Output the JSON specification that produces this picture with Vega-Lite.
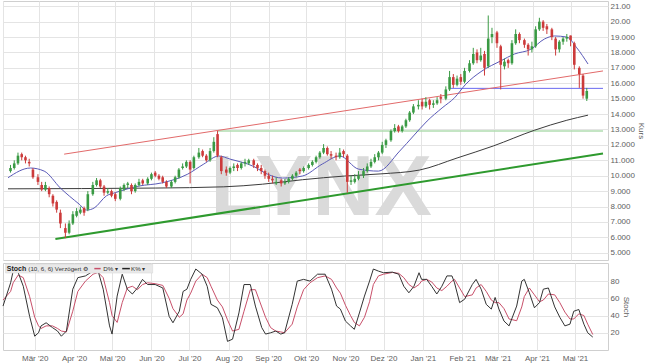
{
  "$schema": "https://vega.github.io/schema/vega-lite/v6.json",
  "padding": 0,
  "spacing": 3,
  "bounds": "flush",
  "background": "white",
  "config": {
    "view": {"stroke": "#cfcfcf"},
    "axis": {
      "gridColor": "#e4e4e4",
      "labelFont": "Liberation Sans",
      "labelFontSize": 8,
      "labelColor": "#606060",
      "labelOverlap": false,
      "titleFont": "Liberation Sans",
      "titleFontSize": 8,
      "titleColor": "#606060",
      "titleFontWeight": "normal",
      "ticks": false,
      "domain": false
    }
  },
  "datasets": {
    "candles": [
      {"d":"2020-02-07","o":10.3,"h":10.7,"l":10.2,"c":10.5},
      {"d":"2020-02-10","o":10.5,"h":11.0,"l":10.4,"c":10.8},
      {"d":"2020-02-13","o":10.8,"h":11.5,"l":10.7,"c":11.3},
      {"d":"2020-02-16","o":11.4,"h":11.5,"l":11.0,"c":11.2},
      {"d":"2020-02-19","o":11.2,"h":11.3,"l":10.8,"c":11.0},
      {"d":"2020-02-22","o":10.9,"h":11.1,"l":10.6,"c":10.8},
      {"d":"2020-02-25","o":10.4,"h":10.5,"l":9.8,"c":9.9},
      {"d":"2020-02-29","o":9.9,"h":10.1,"l":9.4,"c":9.6},
      {"d":"2020-03-03","o":9.4,"h":9.6,"l":9.0,"c":9.1},
      {"d":"2020-03-06","o":9.1,"h":9.6,"l":9.0,"c":9.4},
      {"d":"2020-03-09","o":9.2,"h":9.3,"l":8.6,"c":8.8},
      {"d":"2020-03-12","o":8.7,"h":8.8,"l":8.0,"c":8.2},
      {"d":"2020-03-15","o":8.3,"h":8.4,"l":7.6,"c":7.8},
      {"d":"2020-03-18","o":7.6,"h":7.8,"l":6.6,"c":6.9},
      {"d":"2020-03-22","o":6.6,"h":6.9,"l":5.95,"c":6.3},
      {"d":"2020-03-25","o":6.3,"h":7.1,"l":6.2,"c":6.9},
      {"d":"2020-03-28","o":6.9,"h":7.7,"l":6.8,"c":7.5},
      {"d":"2020-03-31","o":7.4,"h":7.9,"l":7.3,"c":7.7},
      {"d":"2020-04-03","o":7.6,"h":8.0,"l":7.5,"c":7.8},
      {"d":"2020-04-06","o":7.9,"h":8.0,"l":7.4,"c":7.6},
      {"d":"2020-04-09","o":7.8,"h":9.0,"l":7.7,"c":8.8},
      {"d":"2020-04-13","o":8.8,"h":9.6,"l":8.7,"c":9.4},
      {"d":"2020-04-16","o":9.4,"h":9.85,"l":9.3,"c":9.7},
      {"d":"2020-04-19","o":9.7,"h":9.8,"l":9.2,"c":9.3},
      {"d":"2020-04-22","o":9.3,"h":9.4,"l":8.7,"c":8.9},
      {"d":"2020-04-25","o":8.9,"h":9.2,"l":8.8,"c":9.0},
      {"d":"2020-04-28","o":9.0,"h":9.1,"l":8.6,"c":8.7},
      {"d":"2020-05-01","o":8.8,"h":8.9,"l":8.35,"c":8.5},
      {"d":"2020-05-05","o":8.5,"h":9.3,"l":8.4,"c":9.2},
      {"d":"2020-05-08","o":9.1,"h":9.5,"l":9.0,"c":9.4},
      {"d":"2020-05-11","o":9.4,"h":9.6,"l":9.2,"c":9.5},
      {"d":"2020-05-14","o":9.4,"h":9.5,"l":8.8,"c":9.0},
      {"d":"2020-05-17","o":9.0,"h":9.5,"l":8.9,"c":9.4},
      {"d":"2020-05-20","o":9.4,"h":9.8,"l":9.3,"c":9.6},
      {"d":"2020-05-23","o":9.7,"h":9.8,"l":9.4,"c":9.5},
      {"d":"2020-05-27","o":9.5,"h":9.9,"l":9.4,"c":9.8},
      {"d":"2020-05-30","o":9.8,"h":10.2,"l":9.7,"c":10.1},
      {"d":"2020-06-02","o":10.2,"h":10.3,"l":9.9,"c":10.0},
      {"d":"2020-06-05","o":10.0,"h":10.1,"l":9.7,"c":9.8},
      {"d":"2020-06-08","o":9.9,"h":10.0,"l":9.5,"c":9.6},
      {"d":"2020-06-11","o":9.6,"h":9.7,"l":9.2,"c":9.3},
      {"d":"2020-06-15","o":9.3,"h":9.7,"l":9.2,"c":9.6},
      {"d":"2020-06-18","o":9.6,"h":10.0,"l":9.5,"c":9.9},
      {"d":"2020-06-21","o":9.9,"h":10.5,"l":9.8,"c":10.4},
      {"d":"2020-06-24","o":10.5,"h":10.8,"l":10.4,"c":10.6},
      {"d":"2020-06-27","o":10.6,"h":11.0,"l":10.5,"c":10.9},
      {"d":"2020-06-30","o":10.9,"h":11.0,"l":9.5,"c":10.4},
      {"d":"2020-07-03","o":10.5,"h":11.3,"l":10.4,"c":11.2},
      {"d":"2020-07-07","o":11.2,"h":11.8,"l":11.1,"c":11.5},
      {"d":"2020-07-10","o":11.6,"h":11.7,"l":11.2,"c":11.3},
      {"d":"2020-07-13","o":11.3,"h":11.4,"l":10.9,"c":11.0},
      {"d":"2020-07-16","o":11.0,"h":11.8,"l":10.9,"c":11.6},
      {"d":"2020-07-19","o":11.6,"h":12.5,"l":11.5,"c":12.2},
      {"d":"2020-07-22","o":12.7,"h":12.9,"l":11.2,"c":11.3},
      {"d":"2020-07-25","o":11.2,"h":11.3,"l":10.1,"c":10.3},
      {"d":"2020-07-29","o":10.4,"h":10.6,"l":10.0,"c":10.2},
      {"d":"2020-08-01","o":10.2,"h":10.6,"l":10.1,"c":10.5},
      {"d":"2020-08-04","o":10.5,"h":10.8,"l":10.3,"c":10.6},
      {"d":"2020-08-07","o":10.7,"h":10.8,"l":10.3,"c":10.5},
      {"d":"2020-08-10","o":10.5,"h":10.9,"l":10.4,"c":10.8},
      {"d":"2020-08-13","o":10.8,"h":11.1,"l":10.6,"c":10.9},
      {"d":"2020-08-16","o":10.8,"h":11.1,"l":10.7,"c":11.0},
      {"d":"2020-08-20","o":11.0,"h":11.1,"l":10.5,"c":10.7},
      {"d":"2020-08-23","o":10.7,"h":10.8,"l":10.3,"c":10.5},
      {"d":"2020-08-26","o":10.5,"h":10.7,"l":10.1,"c":10.3},
      {"d":"2020-08-29","o":10.3,"h":10.4,"l":9.8,"c":10.0},
      {"d":"2020-09-01","o":10.0,"h":10.2,"l":9.6,"c":9.8},
      {"d":"2020-09-04","o":9.8,"h":10.0,"l":9.5,"c":9.7},
      {"d":"2020-09-07","o":9.5,"h":9.9,"l":9.4,"c":9.6},
      {"d":"2020-09-11","o":9.7,"h":9.8,"l":9.3,"c":9.5},
      {"d":"2020-09-14","o":9.5,"h":9.8,"l":9.4,"c":9.6},
      {"d":"2020-09-17","o":9.6,"h":9.9,"l":9.5,"c":9.8},
      {"d":"2020-09-20","o":9.8,"h":10.1,"l":9.7,"c":10.0},
      {"d":"2020-09-23","o":10.0,"h":10.3,"l":9.9,"c":10.2},
      {"d":"2020-09-26","o":10.4,"h":10.5,"l":10.1,"c":10.3},
      {"d":"2020-09-29","o":10.3,"h":10.6,"l":10.2,"c":10.5},
      {"d":"2020-10-03","o":10.5,"h":10.8,"l":10.4,"c":10.7},
      {"d":"2020-10-06","o":10.7,"h":11.0,"l":10.6,"c":10.9},
      {"d":"2020-10-09","o":10.9,"h":11.3,"l":10.8,"c":11.2},
      {"d":"2020-10-12","o":11.2,"h":11.6,"l":11.1,"c":11.5},
      {"d":"2020-10-15","o":11.5,"h":12.05,"l":11.4,"c":11.8},
      {"d":"2020-10-18","o":11.8,"h":11.9,"l":11.3,"c":11.4},
      {"d":"2020-10-21","o":11.4,"h":11.6,"l":11.1,"c":11.3},
      {"d":"2020-10-25","o":11.3,"h":11.5,"l":11.0,"c":11.2},
      {"d":"2020-10-28","o":11.2,"h":11.8,"l":11.1,"c":11.5},
      {"d":"2020-10-31","o":11.6,"h":11.7,"l":11.2,"c":11.4},
      {"d":"2020-11-03","o":11.3,"h":11.4,"l":8.9,"c":9.6},
      {"d":"2020-11-06","o":9.6,"h":10.0,"l":9.4,"c":9.7},
      {"d":"2020-11-09","o":9.6,"h":10.1,"l":9.5,"c":9.8},
      {"d":"2020-11-12","o":9.8,"h":10.3,"l":9.7,"c":10.0},
      {"d":"2020-11-16","o":10.0,"h":10.5,"l":9.85,"c":10.3},
      {"d":"2020-11-19","o":10.3,"h":10.8,"l":10.2,"c":10.6},
      {"d":"2020-11-22","o":10.6,"h":11.1,"l":10.5,"c":10.9},
      {"d":"2020-11-25","o":10.9,"h":11.4,"l":10.8,"c":11.2},
      {"d":"2020-11-28","o":11.2,"h":11.6,"l":11.0,"c":11.5},
      {"d":"2020-12-01","o":11.5,"h":12.2,"l":11.4,"c":12.0},
      {"d":"2020-12-04","o":12.0,"h":12.4,"l":11.8,"c":12.3},
      {"d":"2020-12-08","o":12.3,"h":13.0,"l":12.2,"c":12.9},
      {"d":"2020-12-11","o":12.9,"h":13.35,"l":12.8,"c":13.1},
      {"d":"2020-12-14","o":13.2,"h":13.3,"l":12.8,"c":12.9},
      {"d":"2020-12-17","o":12.9,"h":13.3,"l":12.8,"c":13.2},
      {"d":"2020-12-20","o":13.2,"h":13.7,"l":13.1,"c":13.6},
      {"d":"2020-12-23","o":13.6,"h":14.2,"l":13.5,"c":14.1},
      {"d":"2020-12-26","o":14.1,"h":14.65,"l":14.0,"c":14.5},
      {"d":"2020-12-30","o":14.5,"h":14.9,"l":14.3,"c":14.6},
      {"d":"2021-01-02","o":14.8,"h":15.0,"l":14.3,"c":14.5},
      {"d":"2021-01-05","o":14.5,"h":15.1,"l":14.4,"c":14.8},
      {"d":"2021-01-08","o":14.9,"h":15.0,"l":14.3,"c":14.6},
      {"d":"2021-01-11","o":14.6,"h":14.9,"l":14.4,"c":14.7},
      {"d":"2021-01-14","o":14.7,"h":15.1,"l":14.6,"c":14.9},
      {"d":"2021-01-17","o":15.1,"h":15.3,"l":14.7,"c":15.0},
      {"d":"2021-01-21","o":15.0,"h":15.8,"l":14.9,"c":15.6},
      {"d":"2021-01-24","o":15.6,"h":16.8,"l":15.5,"c":16.4},
      {"d":"2021-01-27","o":16.4,"h":16.6,"l":15.7,"c":15.9},
      {"d":"2021-01-30","o":15.9,"h":16.5,"l":15.8,"c":16.3},
      {"d":"2021-02-02","o":16.4,"h":16.6,"l":15.9,"c":16.1},
      {"d":"2021-02-05","o":16.1,"h":17.0,"l":16.0,"c":16.8},
      {"d":"2021-02-09","o":16.8,"h":17.5,"l":16.7,"c":17.3},
      {"d":"2021-02-12","o":17.3,"h":18.3,"l":17.2,"c":17.9},
      {"d":"2021-02-15","o":18.0,"h":18.2,"l":17.3,"c":17.5},
      {"d":"2021-02-18","o":17.5,"h":18.3,"l":17.4,"c":17.8},
      {"d":"2021-02-21","o":17.9,"h":18.1,"l":16.5,"c":17.0},
      {"d":"2021-02-24","o":17.1,"h":20.4,"l":17.0,"c":18.9},
      {"d":"2021-02-27","o":19.0,"h":19.6,"l":18.6,"c":19.2},
      {"d":"2021-03-03","o":19.3,"h":19.4,"l":18.3,"c":18.6},
      {"d":"2021-03-06","o":18.4,"h":18.5,"l":15.6,"c":17.2},
      {"d":"2021-03-09","o":17.1,"h":17.6,"l":16.9,"c":17.4},
      {"d":"2021-03-12","o":17.5,"h":17.6,"l":17.0,"c":17.3},
      {"d":"2021-03-15","o":17.3,"h":18.8,"l":17.2,"c":18.6},
      {"d":"2021-03-18","o":18.6,"h":19.5,"l":18.5,"c":19.2},
      {"d":"2021-03-21","o":19.2,"h":19.3,"l":18.6,"c":18.8},
      {"d":"2021-03-25","o":18.8,"h":18.9,"l":18.3,"c":18.5},
      {"d":"2021-03-28","o":18.5,"h":18.6,"l":17.8,"c":18.2},
      {"d":"2021-03-31","o":18.2,"h":18.7,"l":18.0,"c":18.4},
      {"d":"2021-04-03","o":18.4,"h":19.7,"l":18.3,"c":19.5},
      {"d":"2021-04-06","o":19.5,"h":20.25,"l":19.4,"c":20.0},
      {"d":"2021-04-09","o":20.0,"h":20.1,"l":19.4,"c":19.6},
      {"d":"2021-04-12","o":19.7,"h":19.85,"l":19.2,"c":19.5},
      {"d":"2021-04-16","o":19.5,"h":19.6,"l":18.8,"c":19.0},
      {"d":"2021-04-19","o":18.9,"h":19.0,"l":17.8,"c":18.2},
      {"d":"2021-04-22","o":18.2,"h":18.8,"l":18.0,"c":18.7},
      {"d":"2021-04-25","o":18.7,"h":19.0,"l":18.5,"c":18.9},
      {"d":"2021-04-28","o":18.9,"h":19.2,"l":18.7,"c":19.0},
      {"d":"2021-05-01","o":19.1,"h":19.1,"l":18.4,"c":18.8},
      {"d":"2021-05-04","o":18.6,"h":18.7,"l":16.9,"c":17.2},
      {"d":"2021-05-08","o":17.0,"h":17.1,"l":15.7,"c":16.6},
      {"d":"2021-05-11","o":16.5,"h":16.6,"l":15.0,"c":15.2},
      {"d":"2021-05-14","o":15.0,"h":15.7,"l":14.85,"c":15.5}
    ],
    "ma20": [
      {"d":"2020-02-05","v":9.87},{"d":"2020-02-23","v":10.5},{"d":"2020-03-05","v":10.3},
      {"d":"2020-03-18","v":9.2},{"d":"2020-04-02","v":8.16},{"d":"2020-04-08","v":7.77},
      {"d":"2020-04-14","v":7.9},{"d":"2020-04-24","v":8.7},{"d":"2020-05-01","v":8.9},
      {"d":"2020-05-20","v":9.33},{"d":"2020-06-07","v":9.53},{"d":"2020-06-28","v":10.1},
      {"d":"2020-07-11","v":10.76},{"d":"2020-07-23","v":11.28},{"d":"2020-08-01","v":11.08},
      {"d":"2020-08-20","v":10.6},{"d":"2020-08-31","v":10.1},{"d":"2020-09-12","v":9.85},
      {"d":"2020-09-28","v":9.98},{"d":"2020-10-14","v":10.76},{"d":"2020-10-28","v":11.28},
      {"d":"2020-11-12","v":10.43},{"d":"2020-11-28","v":10.3},{"d":"2020-12-15","v":11.6},
      {"d":"2020-12-26","v":12.58},{"d":"2021-01-06","v":13.55},{"d":"2021-01-18","v":14.4},
      {"d":"2021-01-28","v":15.06},{"d":"2021-02-06","v":15.94},{"d":"2021-02-19","v":16.8},
      {"d":"2021-03-06","v":17.45},{"d":"2021-03-17","v":17.9},{"d":"2021-03-30","v":18.2},
      {"d":"2021-04-10","v":18.87},{"d":"2021-04-18","v":19.07},{"d":"2021-04-28","v":19.0},
      {"d":"2021-05-06","v":18.3},{"d":"2021-05-15","v":17.25}
    ],
    "ma200": [
      {"d":"2020-02-05","v":9.15},{"d":"2020-06-02","v":9.2},{"d":"2020-07-27","v":9.28},
      {"d":"2020-08-27","v":9.45},{"d":"2020-09-28","v":9.74},{"d":"2020-11-01","v":9.98},
      {"d":"2020-11-30","v":10.12},{"d":"2020-12-31","v":10.37},{"d":"2021-01-30","v":11.15},
      {"d":"2021-02-28","v":11.93},{"d":"2021-04-02","v":12.95},{"d":"2021-04-28","v":13.6},
      {"d":"2021-05-15","v":13.93}
    ],
    "stoch": [
      {"d":"2020-02-05","k":51,"s":58},{"d":"2020-02-11","k":78,"s":68},{"d":"2020-02-13","k":91.6,"s":78},
      {"d":"2020-02-17","k":89.7,"s":87},{"d":"2020-02-21","k":74,"s":84},{"d":"2020-02-26","k":39,"s":62},
      {"d":"2020-03-01","k":16,"s":38},{"d":"2020-03-04","k":20,"s":28},{"d":"2020-03-06","k":28,"s":25},
      {"d":"2020-03-10","k":31.6,"s":28},{"d":"2020-03-15","k":26,"s":28},{"d":"2020-03-19","k":22,"s":25},
      {"d":"2020-03-22","k":16,"s":22},{"d":"2020-03-26","k":22,"s":21},{"d":"2020-03-31","k":70.6,"s":45},
      {"d":"2020-04-04","k":84,"s":68},{"d":"2020-04-10","k":86,"s":80},{"d":"2020-04-16","k":91.6,"s":88},
      {"d":"2020-04-20","k":91.6,"s":90},{"d":"2020-04-24","k":70.6,"s":84},{"d":"2020-04-29","k":28,"s":55},
      {"d":"2020-05-01","k":18.5,"s":40},{"d":"2020-05-05","k":62.6,"s":32},{"d":"2020-05-09","k":88,"s":55},
      {"d":"2020-05-13","k":70.6,"s":72},{"d":"2020-05-17","k":65,"s":74},{"d":"2020-05-21","k":72,"s":70},
      {"d":"2020-05-25","k":82,"s":76},{"d":"2020-05-29","k":76,"s":78},{"d":"2020-06-04","k":76,"s":77},
      {"d":"2020-06-10","k":72,"s":75},{"d":"2020-06-15","k":39,"s":60},{"d":"2020-06-18","k":31.6,"s":48},
      {"d":"2020-06-23","k":45,"s":38},{"d":"2020-06-26","k":68,"s":42},{"d":"2020-06-29","k":70.6,"s":58},
      {"d":"2020-07-02","k":82,"s":66},{"d":"2020-07-06","k":94,"s":80},{"d":"2020-07-11","k":88,"s":88},
      {"d":"2020-07-15","k":74,"s":84},{"d":"2020-07-18","k":53,"s":74},{"d":"2020-07-23","k":49,"s":58},
      {"d":"2020-07-27","k":37.5,"s":50},{"d":"2020-07-31","k":10,"s":35},{"d":"2020-08-04","k":12.6,"s":22},
      {"d":"2020-08-09","k":43,"s":24},{"d":"2020-08-13","k":76,"s":45},{"d":"2020-08-18","k":76,"s":70},
      {"d":"2020-08-22","k":51,"s":70},{"d":"2020-08-27","k":26,"s":50},{"d":"2020-08-30","k":18.5,"s":38},
      {"d":"2020-09-03","k":20,"s":26},{"d":"2020-09-07","k":22,"s":22},{"d":"2020-09-11","k":18.5,"s":21},
      {"d":"2020-09-14","k":20,"s":20},{"d":"2020-09-20","k":53,"s":30},{"d":"2020-09-24","k":80,"s":50},
      {"d":"2020-09-29","k":82,"s":70},{"d":"2020-10-04","k":80,"s":78},{"d":"2020-10-10","k":88,"s":84},
      {"d":"2020-10-16","k":88,"s":86},{"d":"2020-10-21","k":70.6,"s":82},{"d":"2020-10-25","k":51,"s":72},
      {"d":"2020-10-28","k":47.5,"s":66},{"d":"2020-11-01","k":33.6,"s":52},{"d":"2020-11-05","k":28,"s":40},
      {"d":"2020-11-08","k":24,"s":32},{"d":"2020-11-12","k":43,"s":28},{"d":"2020-11-16","k":62.6,"s":38},
      {"d":"2020-11-20","k":80,"s":56},{"d":"2020-11-23","k":94,"s":76},{"d":"2020-11-27","k":91.6,"s":86},
      {"d":"2020-12-01","k":89.7,"s":88},{"d":"2020-12-08","k":90.4,"s":90},{"d":"2020-12-13","k":88,"s":89},
      {"d":"2020-12-17","k":74,"s":84},{"d":"2020-12-21","k":66.4,"s":76},{"d":"2020-12-25","k":74,"s":72},
      {"d":"2020-12-29","k":89.7,"s":76},{"d":"2020-12-31","k":82,"s":80},{"d":"2021-01-04","k":82,"s":82},
      {"d":"2021-01-08","k":74,"s":79},{"d":"2021-01-12","k":65,"s":72},{"d":"2021-01-16","k":74,"s":69},
      {"d":"2021-01-20","k":86,"s":74},{"d":"2021-01-24","k":86,"s":80},{"d":"2021-01-26","k":78,"s":82},
      {"d":"2021-01-30","k":55,"s":72},{"d":"2021-02-03","k":59,"s":62},{"d":"2021-02-09","k":76,"s":64},
      {"d":"2021-02-12","k":82,"s":72},{"d":"2021-02-16","k":70.6,"s":76},{"d":"2021-02-20","k":53,"s":68},
      {"d":"2021-02-24","k":47.5,"s":58},{"d":"2021-02-27","k":61,"s":55},{"d":"2021-03-02","k":47.5,"s":55},
      {"d":"2021-03-06","k":33.6,"s":48},{"d":"2021-03-10","k":28,"s":36},{"d":"2021-03-16","k":51,"s":34},
      {"d":"2021-03-20","k":80,"s":50},{"d":"2021-03-22","k":82,"s":62},{"d":"2021-03-26","k":66.4,"s":72},
      {"d":"2021-03-30","k":49,"s":64},{"d":"2021-04-03","k":55,"s":56},{"d":"2021-04-06","k":70.6,"s":58},
      {"d":"2021-04-10","k":72,"s":65},{"d":"2021-04-15","k":50,"s":64},{"d":"2021-04-19","k":38,"s":55},
      {"d":"2021-04-23","k":28,"s":44},{"d":"2021-04-27","k":30,"s":36},{"d":"2021-04-30","k":45,"s":36},
      {"d":"2021-05-04","k":47,"s":42},{"d":"2021-05-08","k":30,"s":40},{"d":"2021-05-11","k":20,"s":30},
      {"d":"2021-05-15","k":15,"s":18}
    ]
  },
  "vconcat": [
    {
      "width": 605,
      "height": 259,
      "layer": [
        {
          "data": {"values": [{"d":"2020-10-13","v":7.45,"t":"LYNX"}]},
          "mark": {"type":"text","font":"Liberation Sans","fontWeight":"bold","fontSize":86,"fill":"#dadada","align":"center","baseline":"alphabetic"},
          "encoding": {
            "x": {"field":"d","type":"temporal","scale":{"type":"utc","domain":[{"year":2020,"month":2,"date":5,"utc":true},{"year":2021,"month":5,"date":27,"utc":true}]},
                  "axis":{"title":null,"labels":false,"grid":true,"tickCount":{"interval":"month","step":1}}},
            "y": {"field":"v","type":"quantitative","scale":{"domain":[4.53,21.34],"nice":false,"zero":false},
                  "axis":{"orient":"right","title":"Kurs","titlePadding":2,"labelPadding":2,"tickCount":30,"values":[5,6,7,8,9,10,11,12,13,14,15,16,17,18,19,20,21],
                          "labelExpr":"datum.value >= 20 ? format(datum.value, '.2f') : format(datum.value, '.3f')"}},
            "text": {"field":"t"}
          }
        },
        {
          "data": {"values": [{"a":"2020-07-22","b":"2021-05-27","v":12.9}]},
          "mark": {"type":"rule","stroke":"#b0dcb0","strokeWidth":1.5},
          "encoding": {"x":{"field":"a","type":"temporal"},"x2":{"field":"b"},"y":{"field":"v","type":"quantitative"}}
        },
        {
          "data": {"values": [{"a":"2021-01-25","b":"2021-05-27","v":15.67}]},
          "mark": {"type":"rule","stroke":"#6a6af0","strokeWidth":1},
          "encoding": {"x":{"field":"a","type":"temporal"},"x2":{"field":"b"},"y":{"field":"v","type":"quantitative"}}
        },
        {
          "data": {"values": [{"a":"2020-03-21","b":"2021-05-27","v1":11.4,"v2":16.8}]},
          "mark": {"type":"rule","stroke":"#e26a6a","strokeWidth":1},
          "encoding": {"x":{"field":"a","type":"temporal"},"x2":{"field":"b"},"y":{"field":"v1","type":"quantitative"},"y2":{"field":"v2"}}
        },
        {
          "data": {"values": [{"a":"2020-03-14","b":"2021-05-27","v1":5.9,"v2":11.44}]},
          "mark": {"type":"rule","stroke":"#2e9a2e","strokeWidth":2},
          "encoding": {"x":{"field":"a","type":"temporal"},"x2":{"field":"b"},"y":{"field":"v1","type":"quantitative"},"y2":{"field":"v2"}}
        },
        {
          "data": {"name":"ma200"},
          "mark": {"type":"line","stroke":"#3c3c3c","strokeWidth":1,"interpolate":"monotone"},
          "encoding": {"x":{"field":"d","type":"temporal"},"y":{"field":"v","type":"quantitative"}}
        },
        {
          "data": {"name":"ma20"},
          "mark": {"type":"line","stroke":"#5a5ab8","strokeWidth":1,"interpolate":"monotone"},
          "encoding": {"x":{"field":"d","type":"temporal"},"y":{"field":"v","type":"quantitative"}}
        },
        {
          "data": {"name":"candles"},
          "mark": {"type":"rule","strokeWidth":1},
          "encoding": {
            "x":{"field":"d","type":"temporal"},
            "y":{"field":"l","type":"quantitative"},"y2":{"field":"h"},
            "color":{"condition":{"test":"datum.c >= datum.o","value":"#3a9a44"},"value":"#cc3b3b"}
          }
        },
        {
          "data": {"name":"candles"},
          "mark": {"type":"bar","size":2.6},
          "encoding": {
            "x":{"field":"d","type":"temporal"},
            "y":{"field":"o","type":"quantitative"},"y2":{"field":"c"},
            "color":{"condition":{"test":"datum.c >= datum.o","value":"#3a9a44"},"value":"#cc3b3b"}
          }
        }
      ]
    },
    {
      "width": 605,
      "height": 87,
      "layer": [
        {
          "data": {"name":"stoch"},
          "mark": {"type":"line","stroke":"#c8506a","strokeWidth":1},
          "encoding": {
            "x": {"field":"d","type":"temporal","scale":{"type":"utc","domain":[{"year":2020,"month":2,"date":5,"utc":true},{"year":2021,"month":5,"date":27,"utc":true}]},
                  "axis":{"title":null,"grid":true,"labelPadding":4,"labelOverlap":false,"tickCount":{"interval":"month","step":1},
                          "labelExpr":"['Jan','Feb','Mär','Apr','Mai','Jun','Jul','Aug','Sep','Okt','Nov','Dez'][utcmonth(datum.value)] + \" '\" + utcFormat(datum.value, '%y')"}},
            "y": {"field":"s","type":"quantitative","scale":{"domain":[0,101],"nice":false,"zero":false},
                  "axis":{"orient":"right","title":"Stoch","titlePadding":3,"labelPadding":2,"tickCount":10,"values":[20,40,60,80]}}
          }
        },
        {
          "data": {"name":"stoch"},
          "mark": {"type":"line","stroke":"#333333","strokeWidth":1},
          "encoding": {"x":{"field":"d","type":"temporal"},"y":{"field":"k","type":"quantitative"}}
        },
        {
          "data": {"values": [{"a":"2020-02-07","b":"2020-06-02","v1":89.3,"v2":99.7}]},
          "mark": {"type":"rect","fill":"#e9e9e9","stroke":"#d6d6d6","strokeWidth":0.5},
          "encoding": {"x":{"field":"a","type":"temporal"},"x2":{"field":"b"},"y":{"field":"v1","type":"quantitative"},"y2":{"field":"v2"}}
        },
        {
          "data": {"values": [{"d":"2020-02-08","v":94.5,"t":"Stoch"}]},
          "mark": {"type":"text","font":"Liberation Sans","fontWeight":"bold","fontSize":7,"fill":"#222222","align":"left","baseline":"middle"},
          "encoding": {"x":{"field":"d","type":"temporal"},"y":{"field":"v","type":"quantitative"},"text":{"field":"t"}}
        },
        {
          "data": {"values": [
            {"d":"2020-02-25","v":94.5,"t":"(10, 6, 6) Verzögert ⚙"},
            {"d":"2020-04-24","v":94.5,"t":"D% ▾"},
            {"d":"2020-05-16","v":94.5,"t":"K% ▾"}
          ]},
          "mark": {"type":"text","font":"Liberation Sans","fontSize":6.2,"fill":"#333333","align":"left","baseline":"middle"},
          "encoding": {"x":{"field":"d","type":"temporal"},"y":{"field":"v","type":"quantitative"},"text":{"field":"t"}}
        },
        {
          "data": {"values": [{"a":"2020-04-17","b":"2020-04-22","v":94.5}]},
          "mark": {"type":"rule","stroke":"#c8506a","strokeWidth":1.5},
          "encoding": {"x":{"field":"a","type":"temporal"},"x2":{"field":"b"},"y":{"field":"v","type":"quantitative"}}
        },
        {
          "data": {"values": [{"a":"2020-05-09","b":"2020-05-15","v":94.5}]},
          "mark": {"type":"rule","stroke":"#222222","strokeWidth":1.5},
          "encoding": {"x":{"field":"a","type":"temporal"},"x2":{"field":"b"},"y":{"field":"v","type":"quantitative"}}
        }
      ]
    }
  ]
}
